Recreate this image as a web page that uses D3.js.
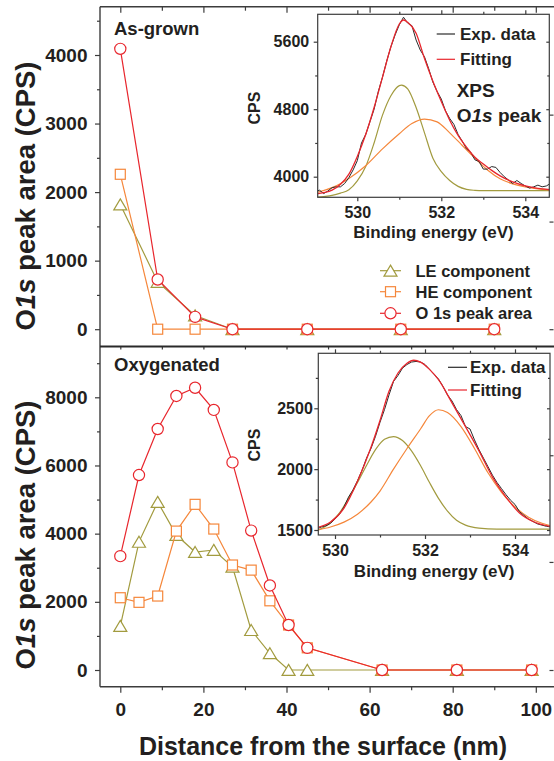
<!DOCTYPE html>
<html><head><meta charset="utf-8">
<script src="https://cdn.jsdelivr.net/npm/d3@7"></script>
<style>
body{margin:0;background:#fff}
svg{display:block}
text{font-family:"Liberation Sans",Arial,Helvetica,sans-serif;font-weight:bold;fill:#231f20}
</style>
</head><body>
<svg id="c" width="554" height="761"></svg>
<script>
// ---------- main data ----------
const depthTop = [0, 9, 18, 27, 45, 67.5, 90];
const leTop    = [1820, 690, 200, 0, 0, 0, 0];
const heTop    = [2260, 0, 0, 0, 0, 0, 0];
const o1sTop   = [4090, 725, 180, 0, 0, 0, 0];

const depthBot = [0, 4.5, 9, 13.5, 18, 22.5, 27, 31.5, 36, 40.5, 45, 63, 81, 99];
const leBot    = [1290, 3760, 4930, 3960, 3460, 3520, 3030, 1170, 490, 0, 0, 0, 0, 0];
const heBot    = [2120, 1985, 2170, 4075, 4860, 4135, 3080, 2930, 2030, 1320, 650, 0, 0, 0];
const o1sBot   = [3340, 5720, 7070, 8040, 8280, 7630, 6090, 4090, 2480, 1320, 650, 0, 0, 0];

const xMajor = [0, 20, 40, 60, 80, 100];
const xMinor = [10, 30, 50, 70, 90];
const yTopMajor = [0, 1000, 2000, 3000, 4000];
const yTopMinor = [500, 1500, 2500, 3500, 4500];
const yBotMajor = [0, 2000, 4000, 6000, 8000];
const yBotMinor = [1000, 3000, 5000, 7000, 9000];
const rightTicksTop = [0, 1570, 3130];
const rightTicksBot = [0, 3170, 6300];

// ---------- inset 1 (as-grown) ----------
const ev1Exp = [529.0,529.1,529.2,529.3,529.4,529.5,529.6,529.7,529.8,529.9,530.0,530.1,530.2,530.3,530.4,530.5,530.6,530.7,530.8,530.9,531.0,531.1,531.2,531.3,531.4,531.5,531.6,531.7,531.8,531.9,532.0,532.1,532.2,532.3,532.4,532.5,532.6,532.7,532.8,532.9,533.0,533.1,533.2,533.3,533.4,533.5,533.6,533.7,533.8,533.9,534.0,534.1,534.2,534.3,534.4,534.5,534.6];
const cps1Exp = [3825,3840,3800,3830,3870,3880,3880,3920,3990,4080,4190,4400,4500,4650,4800,5010,5180,5370,5540,5680,5800,5890,5820,5790,5620,5500,5420,5280,5120,5010,4920,4780,4690,4620,4500,4420,4330,4290,4200,4180,4090,4090,4120,4110,4050,4000,3960,3920,3955,3920,3890,3865,3880,3900,3880,3890,3920];
const ev1Fit  = [529.0,529.2,529.4,529.6,529.8,530.0,530.2,530.4,530.6,530.8,531.0,531.1,531.2,531.4,531.6,531.8,532.0,532.2,532.4,532.6,532.8,533.0,533.2,533.4,533.6,533.8,534.0,534.2,534.4,534.6];
const cps1Fit = [3795,3810,3840,3910,4030,4240,4500,4820,5180,5540,5810,5857,5830,5700,5400,5130,4890,4670,4490,4350,4230,4150,4075,4010,3960,3920,3890,3870,3855,3845];
const ev1LE   = [529.0,529.2,529.4,529.6,529.8,530.0,530.2,530.4,530.6,530.8,531.0,531.05,531.2,531.4,531.6,531.8,532.0,532.2,532.4,532.6,532.8,533.0,534.6];
const cps1LE  = [3756,3765,3778,3805,3845,3950,4120,4400,4730,4960,5080,5086,5040,4820,4520,4220,4060,3955,3885,3850,3838,3834,3834];
const ev1HE   = [529.0,529.4,529.8,530.2,530.6,531.0,531.3,531.6,531.9,532.2,532.5,532.8,533.1,533.4,533.7,534.0,534.3,534.6];
const cps1HE  = [3810,3870,3980,4130,4330,4510,4630,4683,4650,4520,4370,4220,4080,3975,3915,3878,3855,3842];

// ---------- inset 2 (oxygenated) ----------
const ev2Exp = [529.6,529.7,529.8,529.9,530.0,530.1,530.2,530.3,530.4,530.5,530.6,530.7,530.8,530.9,531.0,531.1,531.2,531.3,531.4,531.5,531.6,531.7,531.8,531.9,532.0,532.1,532.2,532.3,532.4,532.5,532.6,532.7,532.8,532.9,533.0,533.1,533.2,533.3,533.4,533.5,533.6,533.7,533.8,533.9,534.0,534.1,534.2,534.3,534.4,534.5,534.6,534.7,534.8];
const cps2Exp = [1510,1525,1535,1555,1590,1630,1690,1770,1830,1905,1990,2090,2170,2270,2385,2490,2610,2720,2770,2830,2860,2880,2885,2880,2860,2820,2780,2740,2680,2610,2560,2490,2440,2350,2330,2240,2160,2090,2020,1950,1890,1840,1790,1745,1710,1650,1620,1590,1570,1550,1540,1530,1525];
const ev2Fit  = [529.6,529.9,530.2,530.5,530.8,531.0,531.2,531.4,531.6,531.75,531.9,532.1,532.3,532.6,532.9,533.2,533.5,533.8,534.1,534.4,534.8];
const cps2Fit = [1520,1565,1680,1900,2180,2400,2640,2790,2870,2895,2880,2820,2735,2545,2350,2150,1935,1770,1640,1570,1528];
const ev2LE   = [529.6,529.9,530.1,530.3,530.5,530.7,530.9,531.1,531.3,531.5,531.7,531.9,532.1,532.3,532.5,532.7,532.9,533.2,533.6,534.8];
const cps2LE  = [1495,1560,1640,1760,1890,2030,2160,2245,2268,2235,2150,2030,1890,1760,1655,1580,1540,1515,1507,1507];
const ev2HE   = [529.6,529.9,530.2,530.5,530.8,531.0,531.3,531.6,531.9,532.1,532.3,532.5,532.8,533.1,533.4,533.7,534.0,534.3,534.6,534.8];
const cps2HE  = [1500,1525,1565,1630,1730,1820,2000,2170,2330,2440,2488,2465,2350,2170,1970,1810,1690,1605,1555,1535];

const evMajor = [530, 532, 534];
const evMinor = [531, 533];
const cps1Major = [4000, 4800, 5600];
const cps1Minor = [4400, 5200];
const cps2Major = [1500, 2000, 2500];
const cps2Minor = [1750, 2250, 2750];

// ---------- styles ----------
const C = {le:"#a29b3f", he:"#f5873b", o1s:"#e8262d", exp:"#2a2a2a", fit:"#e8262d", axis:"#3c3c3c", txt:"#231f20"};

const svg = d3.select("#c");
svg.append("rect").attr("width",554).attr("height",761).attr("fill","#fff");

const L=100, R=554, T=6.7, M=346.5, B=686.7;
const x  = d3.scaleLinear().domain([0,100]).range([120.3,535.8]);
const yT = d3.scaleLinear().domain([0,4000]).range([329.2,55]);
const yB = d3.scaleLinear().domain([0,8000]).range([670,397.3]);

function styleAxis(g, fs){
  g.select(".domain").remove();
  g.selectAll(".tick line").attr("stroke",C.axis).attr("stroke-width",1.2);
  g.selectAll(".tick text").attr("font-size",fs).attr("fill",C.txt)
    .attr("font-family",'"Liberation Sans",Arial,sans-serif').attr("font-weight","bold");
  return g;
}
function addAxis(gen, tr, fs){
  const g = svg.append("g").attr("transform",tr).call(gen);
  return styleAxis(g, fs||19);
}

// main axes
addAxis(d3.axisBottom(x).tickValues(xMajor).tickSize(6).tickPadding(10).tickFormat(d3.format("d")), `translate(0,${B})`, 19);
addAxis(d3.axisBottom(x).tickValues(xMinor).tickSize(3.5).tickFormat(""), `translate(0,${B})`);
addAxis(d3.axisTop(x).tickValues(xMajor).tickSize(-6).tickFormat(""), `translate(0,${T})`);
addAxis(d3.axisTop(x).tickValues(xMinor).tickSize(-4).tickFormat(""), `translate(0,${T})`);
addAxis(d3.axisTop(x).tickValues(xMajor.concat(xMinor)).tickSize(-3).tickFormat(""), `translate(0,${M})`);

addAxis(d3.axisLeft(yT).tickValues(yTopMajor).tickSize(5).tickPadding(7.5).tickFormat(d3.format("d")), `translate(${L},0)`, 19);
addAxis(d3.axisLeft(yT).tickValues(yTopMinor).tickSize(3).tickFormat(""), `translate(${L},0)`);
addAxis(d3.axisLeft(yB).tickValues(yBotMajor).tickSize(5).tickPadding(7.5).tickFormat(d3.format("d")), `translate(${L},0)`, 19);
addAxis(d3.axisLeft(yB).tickValues(yBotMinor).tickSize(3).tickFormat(""), `translate(${L},0)`);
addAxis(d3.axisRight(yT).tickValues(rightTicksTop).tickSize(-4).tickFormat(""), `translate(${R-0.5},0)`);
addAxis(d3.axisRight(yB).tickValues(rightTicksBot).tickSize(-4).tickFormat(""), `translate(${R-0.5},0)`);

// frame lines
const frame = svg.append("g").attr("stroke",C.axis).attr("stroke-width",1.4);
frame.append("line").attr("x1",L).attr("x2",L).attr("y1",T).attr("y2",B);
frame.append("line").attr("x1",L).attr("x2",R).attr("y1",T).attr("y2",T);
frame.append("line").attr("x1",L).attr("x2",R).attr("y1",M).attr("y2",M).attr("stroke","#2a2a2a").attr("stroke-width",1.8);
frame.append("line").attr("x1",L).attr("x2",R).attr("y1",B).attr("y2",B);

// markers
const triPath = "M0,-5.6L6.5,5.4L-6.5,5.4Z";
function drawSeries(depth, vals, y, color, shape){
  const pts = depth.map((d,i)=>[x(d), y(vals[i])]);
  svg.append("path").attr("d", d3.line()(pts)).attr("fill","none").attr("stroke",color).attr("stroke-width",1.2);
  const g = svg.append("g");
  pts.forEach(p=>{
    if(shape==="tri") g.append("path").attr("d",triPath).attr("transform",`translate(${p[0]},${p[1]})`);
    else if(shape==="sq") g.append("rect").attr("x",p[0]-5).attr("y",p[1]-5).attr("width",10).attr("height",10);
    else g.append("circle").attr("cx",p[0]).attr("cy",p[1]).attr("r",5.6);
  });
  g.selectAll("*").attr("fill","#fff").attr("stroke",color).attr("stroke-width",1.2);
}
drawSeries(depthTop, leTop, yT, C.le, "tri");
drawSeries(depthTop, heTop, yT, C.he, "sq");
drawSeries(depthTop, o1sTop, yT, C.o1s, "circ");
drawSeries(depthBot, leBot, yB, C.le, "tri");
drawSeries(depthBot, heBot, yB, C.he, "sq");
drawSeries(depthBot, o1sBot, yB, C.o1s, "circ");

// panel labels
svg.append("text").attr("x",114).attr("y",35).attr("font-size",18.5).text("As-grown");
svg.append("text").attr("x",114).attr("y",371).attr("font-size",18.5).text("Oxygenated");

// y titles
function yTitle(cx, cy){
  const t = svg.append("text").attr("transform",`translate(${cx},${cy}) rotate(-90)`)
    .attr("text-anchor","middle").attr("font-size",27.5);
  t.append("tspan").text("O");
  t.append("tspan").attr("font-style","italic").text("1s");
  t.append("tspan").text(" peak area (CPS)");
}
yTitle(35, 196);
yTitle(35, 535);
svg.append("text").attr("x",323).attr("y",755).attr("text-anchor","middle").attr("font-size",25).text("Distance from the surface (nm)");

// main legend
const legItems = [
  {name:"LE component", color:C.le, shape:"tri", y:270.7},
  {name:"HE component", color:C.he, shape:"sq", y:291.7},
  {name:"O 1s peak area", color:C.o1s, shape:"circ", y:313.3}
];
legItems.forEach(it=>{
  svg.append("line").attr("x1",380).attr("x2",401).attr("y1",it.y).attr("y2",it.y).attr("stroke",it.color).attr("stroke-width",1.2);
  let m;
  if(it.shape==="tri") m = svg.append("path").attr("d",triPath).attr("transform",`translate(390.5,${it.y})`);
  else if(it.shape==="sq") m = svg.append("rect").attr("x",385.5).attr("y",it.y-5).attr("width",10).attr("height",10);
  else m = svg.append("circle").attr("cx",390.5).attr("cy",it.y).attr("r",5.6);
  m.attr("fill","#fff").attr("stroke",it.color).attr("stroke-width",1.2);
  svg.append("text").attr("x",415.5).attr("y",it.y+5.8).attr("font-size",16.5).text(it.name);
});

// ---------- insets ----------
function inset(cfg){
  const {x0,x1,y0,y1,xs,ys,id} = cfg;
  svg.append("rect").attr("x",x0).attr("y",y0).attr("width",x1-x0).attr("height",y1-y0).attr("fill","#fff");
  svg.append("clipPath").attr("id",id).append("rect").attr("x",x0).attr("y",y0).attr("width",x1-x0).attr("height",y1-y0);
  const g = svg.append("g").attr("clip-path",`url(#${id})`);
  const line = (evs, cps, curve) => d3.line().x((d,i)=>xs(evs[i])).y((d,i)=>ys(cps[i])).curve(curve)(evs);
  g.append("path").attr("d",line(cfg.evLE,cfg.cpsLE,d3.curveMonotoneX)).attr("fill","none").attr("stroke",C.le).attr("stroke-width",1.2);
  g.append("path").attr("d",line(cfg.evHE,cfg.cpsHE,d3.curveMonotoneX)).attr("fill","none").attr("stroke",C.he).attr("stroke-width",1.2);
  g.append("path").attr("d",line(cfg.evExp,cfg.cpsExp,d3.curveLinear)).attr("fill","none").attr("stroke",C.exp).attr("stroke-width",1);
  g.append("path").attr("d",line(cfg.evFit,cfg.cpsFit,d3.curveMonotoneX)).attr("fill","none").attr("stroke",C.fit).attr("stroke-width",1.3);
  // axes
  addAxis(d3.axisBottom(xs).tickValues(evMajor).tickSize(4).tickPadding(5.5).tickFormat(d3.format("d")), `translate(0,${y1})`, 16);
  addAxis(d3.axisBottom(xs).tickValues(evMinor).tickSize(2.5).tickFormat(""), `translate(0,${y1})`);
  addAxis(d3.axisTop(xs).tickValues(evMajor).tickSize(4).tickFormat(""), `translate(0,${y0})`);
  addAxis(d3.axisTop(xs).tickValues(evMinor).tickSize(2.5).tickFormat(""), `translate(0,${y0})`);
  addAxis(d3.axisLeft(ys).tickValues(cfg.yMaj).tickSize(4).tickPadding(cfg.pad).tickFormat(d3.format("d")), `translate(${x0},0)`, 16);
  addAxis(d3.axisLeft(ys).tickValues(cfg.yMin).tickSize(2.5).tickFormat(""), `translate(${x0},0)`);
  addAxis(d3.axisRight(ys).tickValues(cfg.yMaj).tickSize(-3).tickFormat(""), `translate(${x1},0)`);
  addAxis(d3.axisRight(ys).tickValues(cfg.yMin).tickSize(-2).tickFormat(""), `translate(${x1},0)`);
  svg.append("rect").attr("x",x0).attr("y",y0).attr("width",x1-x0).attr("height",y1-y0)
    .attr("fill","none").attr("stroke",C.axis).attr("stroke-width",1.2);
  // labels
  svg.append("text").attr("x",(x0+x1)/2).attr("y",cfg.xtY).attr("text-anchor","middle").attr("font-size",17).text("Binding energy (eV)");
  svg.append("text").attr("transform",`translate(260,${cfg.cpsY}) rotate(-90)`).attr("text-anchor","middle").attr("font-size",16).text("CPS");
  // legend
  const lg = cfg.leg;
  [["Exp. data",C.exp,lg.y1],["Fitting",C.fit,lg.y2]].forEach(([n,c,yy])=>{
    svg.append("line").attr("x1",lg.lx1).attr("x2",lg.lx2).attr("y1",yy).attr("y2",yy).attr("stroke",c).attr("stroke-width",1.2);
    svg.append("text").attr("x",lg.tx).attr("y",yy+5.5).attr("font-size",17).text(n);
  });
}

const xs1 = d3.scaleLinear().domain([530,534]).range([357.3,525.3]);
const ys1 = d3.scaleLinear().domain([4000,5600]).range([176.7,41.7]);
inset({id:"clip1", x0:317.7, x1:549.3, y0:14.3, y1:197.3, xs:xs1, ys:ys1,
  evExp:ev1Exp, cpsExp:cps1Exp, evFit:ev1Fit, cpsFit:cps1Fit, evLE:ev1LE, cpsLE:cps1LE, evHE:ev1HE, cpsHE:cps1HE,
  yMaj:cps1Major, yMin:cps1Minor, pad:4.5, xtY:238.3, cpsY:108,
  leg:{lx1:436.7, lx2:455, tx:460, y1:34, y2:59.3}});

const t1 = svg.append("text").attr("x",456.7).attr("y",96.7).attr("font-size",19).text("XPS");
const t2 = svg.append("text").attr("x",456.7).attr("y",121.7).attr("font-size",19);
t2.append("tspan").text("O");
t2.append("tspan").attr("font-style","italic").text("1s");
t2.append("tspan").text(" peak");

const xs2 = d3.scaleLinear().domain([530,534]).range([335,515]);
const ys2 = d3.scaleLinear().domain([1500,2500]).range([530,408.3]);
inset({id:"clip2", x0:318.3, x1:550, y0:353.3, y1:535, xs:xs2, ys:ys2,
  evExp:ev2Exp, cpsExp:cps2Exp, evFit:ev2Fit, cpsFit:cps2Fit, evLE:ev2LE, cpsLE:cps2LE, evHE:ev2HE, cpsHE:cps2HE,
  yMaj:cps2Major, yMin:cps2Minor, pad:1.5, xtY:577, cpsY:445,
  leg:{lx1:448, lx2:467, tx:470, y1:367.3, y2:390}});
</script>
</body></html>
